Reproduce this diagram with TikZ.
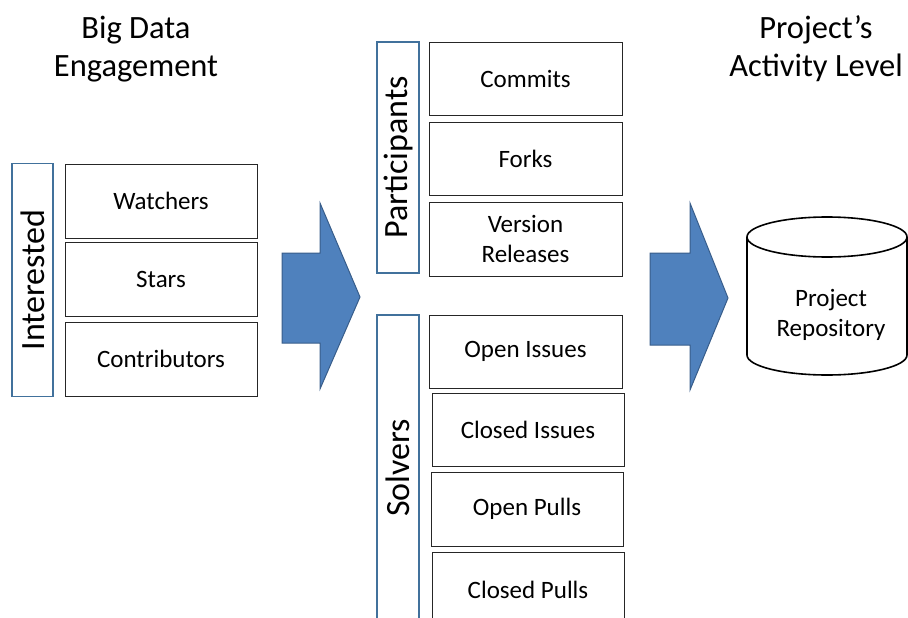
\documentclass[tikz,border=0pt]{standalone}
\usepackage{fontspec}
\setmainfont{Carlito}
\definecolor{barline}{HTML}{41719C}
\definecolor{arrowfill}{HTML}{4F81BD}
\definecolor{arrowline}{HTML}{385D8A}
\definecolor{boxline}{HTML}{262626}
\begin{document}
\begin{tikzpicture}[x=1pt,y=-1pt,
  item/.style={draw=boxline, line width=1pt, fill=white, inner sep=0pt, align=center,
    font=\fontsize{25}{30}\selectfont},
  bar/.style={draw=barline, line width=1.4pt, fill=white, inner sep=0pt, rotate=90,
    font=\fontsize{34}{38}\selectfont},
  title/.style={align=center, font=\fontsize{32.5}{38}\selectfont},
  blockarrow/.style={fill=arrowfill, draw=arrowline, line width=1pt, line join=miter}]
\useasboundingbox (0,0) rectangle (908,618);
\clip (0,0) rectangle (908,618);
% titles
\node[title] (t1) at (136,49) {Big Data\\Engagement};
\node[title] (t2) at (816,49) {Project’s\\Activity Level};
% left group
\node[bar, minimum width=233, minimum height=41] (interested) at (32.5,280) {Interested};
\node[item, minimum width=192, minimum height=74] (watchers) at (161,201) {Watchers};
\node[item, minimum width=192, minimum height=74] (stars) at (161,279) {Stars};
\node[item, minimum width=192, minimum height=74] (contrib) at (161,359) {Contributors};
% arrow 1
\draw[blockarrow] (282,253) -- (320,253) -- (320,203) -- (360,297) -- (320,389) -- (320,343) -- (282,343) -- cycle;
% participants
\node[bar, minimum width=231, minimum height=42] (particip) at (398,157.5) {Participants};
\node[item, minimum width=193, minimum height=72] (commits) at (525.5,79) {Commits};
\node[item, minimum width=193, minimum height=73] (forks) at (525.5,158.5) {Forks};
\node[item, minimum width=193, minimum height=74] (version) at (525.5,239) {Version\\Releases};
% solvers
\node[bar, minimum width=306, minimum height=42] (solvers) at (398,468) {Solvers};
\node[item, minimum width=193, minimum height=73] (openiss) at (525.5,351.5) {Open Issues};
\node[item, minimum width=192, minimum height=73] (closediss) at (528,429.5) {Closed Issues};
\node[item, minimum width=192, minimum height=74] (openpull) at (527,509) {Open Pulls};
\node[item, minimum width=192, minimum height=76] (closedpull) at (528,590) {Closed Pulls};
% arrow 2
\draw[blockarrow] (650,253) -- (690,253) -- (690,203) -- (728,298) -- (690,390) -- (690,345) -- (650,345) -- cycle;
% cylinder
\draw[line width=1.6pt, fill=white] (747,237) -- (747,355) arc[start angle=180, end angle=0, x radius=80, y radius=20] -- (907,237);
\draw[line width=1.6pt, fill=white] (827,237) ellipse[x radius=80, y radius=20];
\node[align=center, font=\fontsize{25}{30}\selectfont] (repo) at (831,315) {Project\\Repository};
\end{tikzpicture}
\end{document}
